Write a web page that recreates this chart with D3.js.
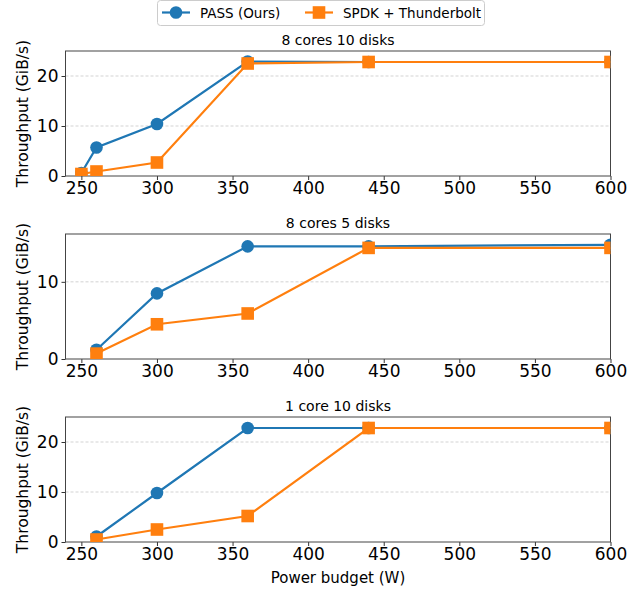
<!DOCTYPE html>
<html>
<head>
<meta charset="utf-8">
<script src="https://cdn.jsdelivr.net/npm/d3@7"></script>
<style>
  body { margin: 0; background: #fff; }
  text { font-family: "DejaVu Sans", sans-serif; fill: #000; }
  .grid line { stroke: #c8c8c8; stroke-dasharray: 3,2; stroke-width: 0.8; }
</style>
</head>
<body>
<svg id="chart" width="638" height="590"></svg>
<script>
// power budgets (W) per configuration
const budgets10 = [250, 260, 300, 360, 440, 600];
const budgets5 = [260, 300, 360, 440, 600];
const budgets1 = [260, 300, 360, 440, 600];

// throughput GiB/s
const pass8c10d = [0.6, 5.7, 10.4, 22.9, 22.8, 22.8];
const spdk8c10d = [0.4, 0.9, 2.7, 22.5, 22.8, 22.8];
const pass8c5d = [1.2, 8.5, 14.6, 14.6, 14.8];
const spdk8c5d = [0.7, 4.5, 5.9, 14.4, 14.4];
const pass1c10d = [1.1, 9.8, 22.8, 22.8, 22.8];
const spdk1c10d = [0.5, 2.5, 5.2, 22.8, 22.8];

const titles = ["8 cores 10 disks", "8 cores 5 disks", "1 core 10 disks"];
const yMax = [25, 16.2, 25];
const yTicks = [[0, 10, 20], [0, 10], [0, 10, 20]];
const xTicks = [250, 300, 350, 400, 450, 500, 550, 600];
const seriesNames = ["PASS (Ours)", "SPDK + Thunderbolt"];
const colors = ["#1f77b4", "#ff7f0e"];

const panels = [
  {x: budgets10, pass: pass8c10d, spdk: spdk8c10d},
  {x: budgets5, pass: pass8c5d, spdk: spdk8c5d},
  {x: budgets1, pass: pass1c10d, spdk: spdk1c10d}
];

const svg = d3.select("#chart");
const left = 65.5, right = 610.5, ph = 125;
const tops = [51, 234, 417];

let x = d3.scaleLinear().domain([239.5, 600]).range([left, right]);

panels.forEach(function(p, i) {
  let y = d3.scaleLinear().domain([0, yMax[i]]).range([tops[i] + ph, tops[i]]);
  let g = svg.append("g");

  g.append("clipPath").attr("id", "clip" + i)
    .append("rect").attr("x", left).attr("y", tops[i]).attr("width", right - left).attr("height", ph);

  // gridlines
  g.append("g").attr("class", "grid")
    .selectAll("line").data(yTicks[i].filter(d => d > 0)).enter().append("line")
    .attr("x1", left).attr("x2", right)
    .attr("y1", d => y(d)).attr("y2", d => y(d));

  // axes
  let xa = g.append("g").attr("transform", "translate(0," + (tops[i] + ph) + ")")
    .call(d3.axisBottom(x).tickValues(xTicks).tickSize(4).tickPadding(2).tickFormat(d3.format("d")));
  let ya = g.append("g").attr("transform", "translate(" + left + ",0)")
    .call(d3.axisLeft(y).tickValues(yTicks[i]).tickSize(4).tickPadding(3).tickFormat(d3.format("d")));
  [xa, ya].forEach(function(a) {
    a.select(".domain").remove();
    a.selectAll("text").style("font-size", "17px").style("font-family", "DejaVu Sans");
    a.selectAll("line").attr("stroke", "#333");
  });

  // frame
  g.append("rect").attr("x", left).attr("y", tops[i]).attr("width", right - left).attr("height", ph)
    .attr("fill", "none").attr("stroke", "#444").attr("stroke-width", 1);

  // series
  let plot = g.append("g").attr("clip-path", "url(#clip" + i + ")");
  [p.pass, p.spdk].forEach(function(vals, s) {
    let pts = p.x.map((d, k) => [d, vals[k]]);
    plot.append("path").datum(pts)
      .attr("fill", "none").attr("stroke", colors[s]).attr("stroke-width", 2.2)
      .attr("d", d3.line().x(d => x(d[0])).y(d => y(d[1])));
    if (s == 0) {
      plot.selectAll(".pt" + s).data(pts).enter().append("circle")
        .attr("cx", d => x(d[0])).attr("cy", d => y(d[1])).attr("r", 6.3)
        .attr("fill", colors[s]);
    } else {
      plot.selectAll(".pt" + s).data(pts).enter().append("rect")
        .attr("x", d => x(d[0]) - 6.3).attr("y", d => y(d[1]) - 6.3)
        .attr("width", 12.6).attr("height", 12.6)
        .attr("fill", colors[s]);
    }
  });

  g.append("text").attr("x", (left + right) / 2).attr("y", tops[i] - 6)
    .attr("text-anchor", "middle").style("font-size", "14px").text(titles[i]);

  g.append("text").attr("transform", "translate(28," + (tops[i] + ph / 2) + ") rotate(-90)")
    .attr("text-anchor", "middle").style("font-size", "15.5px").text("Throughput (GiB/s)");
});

svg.append("text").attr("x", (left + right) / 2).attr("y", 583)
  .attr("text-anchor", "middle").style("font-size", "15px").text("Power budget (W)");

// legend
let lg = svg.append("g");
lg.append("rect").attr("x", 157.5).attr("y", 0.5).attr("width", 327).attr("height", 25).attr("rx", 3)
  .attr("fill", "#fff").attr("stroke", "#ccc");
const legX = [162, 305];
seriesNames.forEach(function(name, s) {
  let lx = legX[s], ly = 12.5;
  lg.append("line").attr("x1", lx).attr("x2", lx + 28).attr("y1", ly).attr("y2", ly)
    .attr("stroke", colors[s]).attr("stroke-width", 2.2);
  if (s == 0) {
    lg.append("circle").attr("cx", lx + 14).attr("cy", ly).attr("r", 6.3).attr("fill", colors[s]);
  } else {
    lg.append("rect").attr("x", lx + 14 - 6.3).attr("y", ly - 6.3).attr("width", 12.6).attr("height", 12.6).attr("fill", colors[s]);
  }
  lg.append("text").attr("x", lx + 38).attr("y", ly + 5).style("font-size", "13.5px").text(name);
});
</script>
</body>
</html>
